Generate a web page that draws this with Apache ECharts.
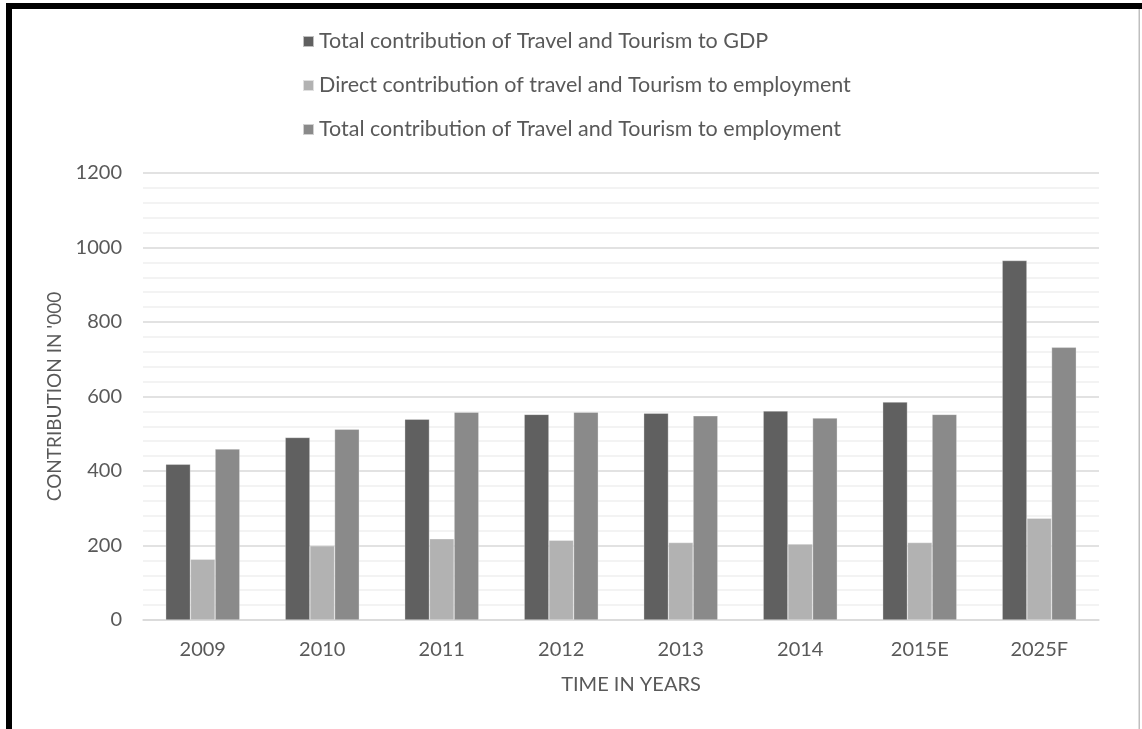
<!DOCTYPE html>
<html>
<head>
<meta charset="utf-8">
<script src="https://cdn.jsdelivr.net/npm/echarts@6/dist/echarts.min.js"></script>
<style>
html,body{margin:0;padding:0;background:#fff;}
#chart{width:1142px;height:729px;}
</style>
</head>
<body>
<div id="chart"></div>
<script>
const categories = ['2009','2010','2011','2012','2013','2014','2015E','2025F'];
const gdpTotal = [418, 490, 539, 552, 555, 561, 585, 965];
const empDirect = [163, 199, 218, 214, 208, 204, 208, 273];
const empTotal = [459, 512, 558, 558, 548, 542, 552, 732];
const seriesNames = [
  'Total contribution of Travel and Tourism to GDP',
  'Direct contribution of travel and Tourism to employment',
  'Total contribution of Travel and Tourism to employment'
];
const FONT = 'Lato, "Liberation Sans", sans-serif';
const chart = echarts.init(document.getElementById('chart'));
const mk = (name, data, color) => ({
  name, type: 'bar', data,
  barGap: '0%', barCategoryGap: '38%',
  itemStyle: { color, borderColor: 'rgba(255,255,255,0.6)', borderWidth: 0.5 }
});
chart.setOption({
  animation: false,
  backgroundColor: '#fff',
  textStyle: { fontFamily: FONT },
  legend: {
    orient: 'vertical', left: 297, top: 25,
    itemWidth: 11, itemHeight: 11, itemGap: 21,
    icon: 'rect',
    textStyle: { fontFamily: FONT, fontSize: 21.5, color: '#595959', lineHeight: 23 },
    data: seriesNames
  },
  grid: { left: 143, right: 43, top: 173, bottom: 109 },
  xAxis: {
    type: 'category', data: categories,
    name: 'TIME IN YEARS', nameLocation: 'middle', nameGap: 55,
    nameTextStyle: { fontFamily: FONT, fontSize: 20, color: '#595959', padding: [0, 0, 0, 20] },
    axisLine: { lineStyle: { color: '#d9d9d9', width: 1.5 } },
    axisTick: { show: false },
    axisLabel: { fontFamily: FONT, fontSize: 20, color: '#595959', margin: 20 }
  },
  yAxis: {
    type: 'value', min: 0, max: 1200, interval: 200,
    name: "CONTRIBUTION IN '000", nameLocation: 'middle', nameGap: 78, nameRotate: 90,
    nameTextStyle: { fontFamily: FONT, fontSize: 19, color: '#595959' },
    axisLine: { show: false },
    axisTick: { show: false },
    axisLabel: { fontFamily: FONT, fontSize: 20, color: '#595959', margin: 21, formatter: v => String(v) },
    splitLine: { lineStyle: { color: '#d9d9d9', width: 1.5 } },
    minorTick: { show: false, splitNumber: 5 },
    minorSplitLine: { show: true, lineStyle: { color: '#f0f0f0', width: 1.5 } }
  },
  series: [
    mk(seriesNames[0], gdpTotal, '#606060'),
    mk(seriesNames[1], empDirect, '#b2b2b2'),
    mk(seriesNames[2], empTotal, '#8a8a8a')
  ],
  graphic: [
    { type: 'rect', shape: { x: 6, y: 3, width: 1136, height: 6 }, style: { fill: '#000' }, silent: true },
    { type: 'rect', shape: { x: 6, y: 3, width: 6, height: 726 }, style: { fill: '#000' }, silent: true },
    { type: 'rect', shape: { x: 1138.5, y: 9, width: 1.5, height: 720 }, style: { fill: '#bfbfbf' }, silent: true }
  ]
});
</script>
</body>
</html>
